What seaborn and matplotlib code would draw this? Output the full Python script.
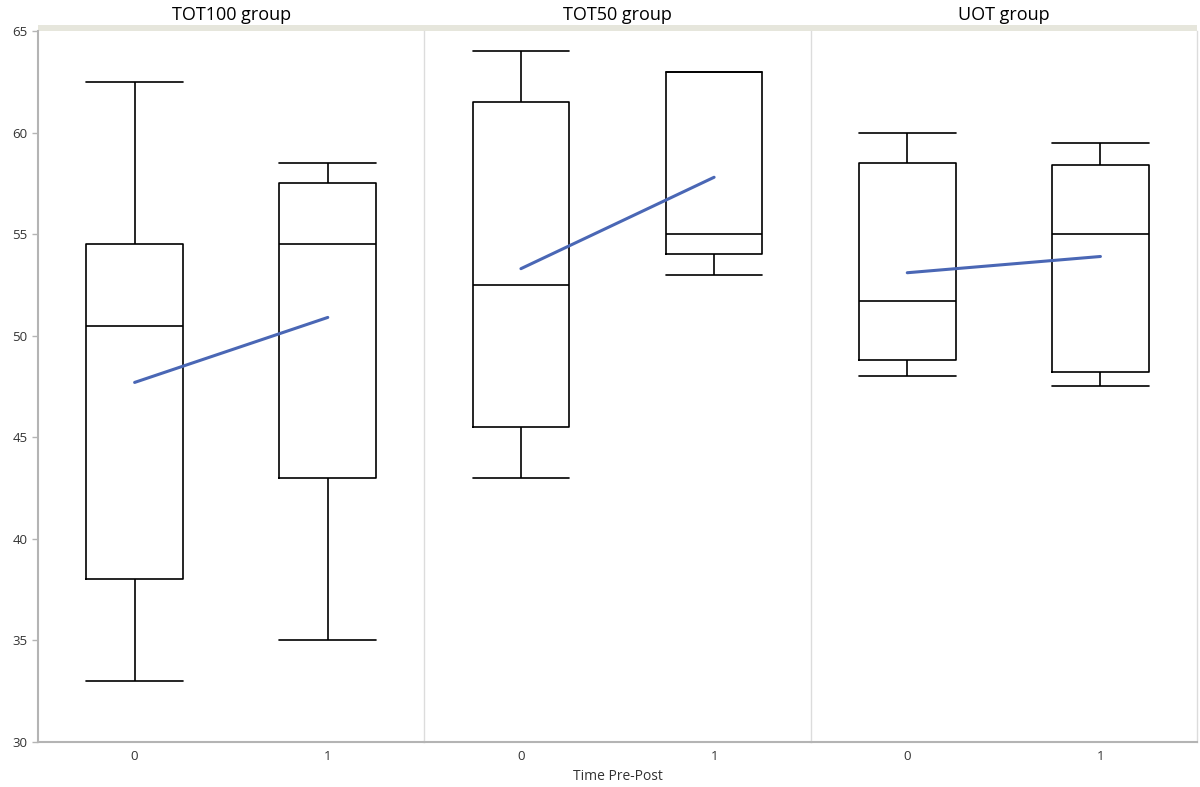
import matplotlib
matplotlib.use("Agg")
import matplotlib.pyplot as plt
import seaborn as sns
import pandas as pd
from matplotlib.patches import Rectangle

# ---- data ----
groups = ["TOT100 group", "TOT50 group", "UOT group"]
times = ["0", "1"]
# five-number summaries: min, Q1, median, Q3, max
tot100_t0 = [33.0, 38.0, 50.5, 54.5, 62.5]
tot100_t1 = [35.0, 43.0, 54.5, 57.5, 58.5]
tot50_t0 = [43.0, 45.5, 52.5, 61.5, 64.0]
tot50_t1 = [53.0, 54.0, 55.0, 63.0, 63.0]
uot_t0 = [48.0, 48.8, 51.7, 58.5, 60.0]
uot_t1 = [47.5, 48.2, 55.0, 58.4, 59.5]
# group means (blue line)
tot100_means = [47.7, 50.9]
tot50_means = [53.3, 57.8]
uot_means = [53.1, 53.9]
y_ticks = [30, 35, 40, 45, 50, 55, 60, 65]

summaries = {
    "TOT100 group": [tot100_t0, tot100_t1],
    "TOT50 group": [tot50_t0, tot50_t1],
    "UOT group": [uot_t0, uot_t1],
}
means = {
    "TOT100 group": tot100_means,
    "TOT50 group": tot50_means,
    "UOT group": uot_means,
}

rows = []
for g in groups:
    for t, vals in zip(times, summaries[g]):
        for v in vals:
            rows.append({"group": g, "time": t, "value": v})
df = pd.DataFrame(rows)
mean_rows = [{"group": g, "time": t, "mean": m}
             for g in groups for t, m in zip(times, means[g])]
mdf = pd.DataFrame(mean_rows)

sns.set_theme(style="white")
plt.rcParams["font.family"] = ["Open Sans", "DejaVu Sans"]

fig, axes = plt.subplots(1, 3, figsize=(12, 7.87), dpi=100, sharey=True)
fig.subplots_adjust(left=0.0317, right=0.9975, bottom=0.0572, top=0.9606, wspace=0)

spine_col = "#b4b4b4"
sep_col = "#dcdcdc"
for i, (ax, g) in enumerate(zip(axes, groups)):
    sub = df[df["group"] == g]
    sns.boxplot(data=sub, x="time", y="value", order=times, whis=(0, 100),
                width=0.5, fill=False, color="black", linewidth=1.2,
                linecolor="black", ax=ax,
                medianprops={"color": "black", "linewidth": 1.2},
                whiskerprops={"color": "black", "linewidth": 1.2},
                capprops={"color": "black", "linewidth": 1.2},
                boxprops={"linewidth": 1.2})
    # caps as wide as boxes
    for line in ax.lines:
        xd = line.get_xdata()
        if len(xd) == 2 and xd[0] != xd[1] and abs(xd[1] - xd[0]) < 0.5:
            c = (xd[0] + xd[1]) / 2
            line.set_xdata([c - 0.25, c + 0.25])
    msub = mdf[mdf["group"] == g]
    sns.lineplot(data=msub, x="time", y="mean", ax=ax, color="#4a67b5",
                 linewidth=2.2, sort=False)
    ax.set_xlim(-0.5, 1.5)
    ax.set_ylim(30, 65)
    ax.set_yticks(y_ticks)
    ax.set_xlabel("")
    ax.set_ylabel("")
    ax.set_title(g, fontsize=13, color="black", pad=8)
    for s in ["top", "right"]:
        ax.spines[s].set_visible(False)
    ax.spines["bottom"].set_color(spine_col)
    ax.spines["bottom"].set_linewidth(1.5)
    ax.spines["left"].set_color(sep_col if i > 0 else spine_col)
    ax.spines["left"].set_linewidth(1.5 if i == 0 else 1.0)
    ax.tick_params(axis="x", length=0, labelsize=9.5, colors="#333333", pad=6)
    ax.tick_params(axis="y", length=4, width=1, color=spine_col,
                   labelsize=9.5, labelcolor="#333333", left=(i == 0))
    # header band
    ax.add_patch(Rectangle((0, 1.0), 1, 0.009, transform=ax.transAxes,
                           facecolor="#e6e6dc", edgecolor="none", clip_on=False))
    ax.grid(False)

axes[2].spines["right"].set_visible(True)
axes[2].spines["right"].set_color(sep_col)
axes[2].spines["right"].set_linewidth(1.0)
axes[1].set_xlabel("Time Pre-Post", fontsize=10, color="#333333", labelpad=4)

fig.savefig("out.png", dpi=100)
